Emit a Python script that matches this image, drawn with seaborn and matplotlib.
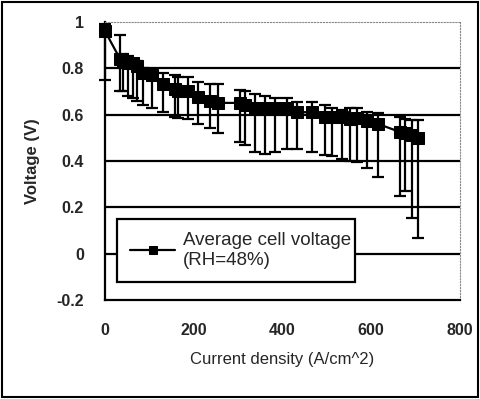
import matplotlib
matplotlib.use('Agg')
import matplotlib.pyplot as plt
import seaborn as sns
import pandas as pd
import numpy as np
from matplotlib.patches import Rectangle

# data
current = [0, 34, 41, 52, 63, 72, 86, 106, 131, 158, 164, 187, 210, 237, 255,
           304, 315, 338, 361, 383, 410, 433, 466, 496, 512, 534, 552, 568,
           590, 615, 665, 676, 692, 705]
voltage = [0.96, 0.84, 0.83, 0.82, 0.82, 0.81, 0.78, 0.77, 0.73, 0.71, 0.70,
           0.70, 0.675, 0.66, 0.65, 0.65, 0.64, 0.63, 0.63, 0.63, 0.63, 0.61,
           0.61, 0.59, 0.59, 0.59, 0.58, 0.585, 0.57, 0.56, 0.525, 0.52, 0.51,
           0.50]
v_upper = [0.99, 0.94, 0.86, 0.85, 0.84, 0.83, 0.80, 0.79, 0.78, 0.77, 0.76,
           0.76, 0.74, 0.73, 0.73, 0.705, 0.70, 0.69, 0.68, 0.67, 0.67, 0.655,
           0.655, 0.64, 0.63, 0.62, 0.63, 0.63, 0.61, 0.605, 0.59, 0.58, 0.575,
           0.575]
v_lower = [0.75, 0.70, 0.70, 0.68, 0.67, 0.66, 0.64, 0.63, 0.61, 0.59, 0.585,
           0.58, 0.56, 0.54, 0.52, 0.48, 0.47, 0.44, 0.43, 0.44, 0.45, 0.45,
           0.44, 0.425, 0.42, 0.41, 0.40, 0.395, 0.37, 0.33, 0.25, 0.27, 0.155,
           0.07]

x_ticks = [0, 200, 400, 600, 800]
x_labels = ['0', '200', '400', '600', '800']
y_ticks = [-0.2, 0, 0.2, 0.4, 0.6, 0.8, 1.0]
y_labels = ['-0.2', '0', '0.2', '0.4', '0.6', '0.8', '1']

df = pd.DataFrame({'Current': current, 'Voltage': voltage,
                   'Upper': v_upper, 'Lower': v_lower})

sns.set_style('white')
plt.rcParams['font.family'] = ['Liberation Sans', 'DejaVu Sans']

fig = plt.figure(figsize=(4.81, 3.99), dpi=100)
ax = fig.add_axes([0.218, 0.247, 0.738, 0.699])

# horizontal grid lines
for y in y_ticks[1:-1]:
    ax.axhline(y, color='black', lw=1.6, zorder=1)

yerr = np.vstack([df['Voltage'] - df['Lower'], df['Upper'] - df['Voltage']])
ax.errorbar(df['Current'], df['Voltage'], yerr=yerr, fmt='none',
            ecolor='black', elinewidth=1.6, capsize=4.5, capthick=1.6,
            zorder=2, clip_on=False)
sns.lineplot(data=df, x='Current', y='Voltage', ax=ax, color='black', lw=1.6,
             marker='s', markersize=8, markeredgecolor='black',
             label='Average cell voltage\n(RH=48%)', zorder=3, clip_on=False)

ax.set_xlim(0, 800)
ax.set_ylim(-0.2, 1.0)
ax.set_xticks(x_ticks)
ax.set_xticklabels(x_labels, fontsize=11.5, fontweight='bold')
ax.set_yticks(y_ticks)
ax.set_yticklabels(y_labels, fontsize=11.5, fontweight='bold')
ax.tick_params(axis='x', direction='in', length=4, width=1.2, pad=16)
ax.tick_params(axis='y', length=0, pad=15)
ax.set_xlabel('Current density (A/cm^2)', fontsize=12, labelpad=10)
ax.set_ylabel('Voltage (V)', fontsize=12, fontweight='bold', labelpad=12)

for s in ['left', 'bottom']:
    ax.spines[s].set_color('black')
    ax.spines[s].set_linewidth(1.6)
for s in ['top', 'right']:
    ax.spines[s].set_color('#888888')
    ax.spines[s].set_linewidth(0.8)
    ax.spines[s].set_linestyle(':')

leg = ax.legend(loc='lower left', bbox_to_anchor=(0.034, 0.067, 0.67, 0.229),
                mode='expand', fancybox=False, edgecolor='black', fontsize=13.5,
                handlelength=2.4, handletextpad=0.4, borderpad=0.7,
                borderaxespad=0, framealpha=1)
leg.get_frame().set_linewidth(1.6)
leg.legend_handles[0].set_markersize(6)

fig.patches.append(Rectangle((0.004, 0.006), 0.99, 0.988, transform=fig.transFigure,
                             fill=False, edgecolor='black', lw=1.5))

fig.savefig('out.png', dpi=100)
